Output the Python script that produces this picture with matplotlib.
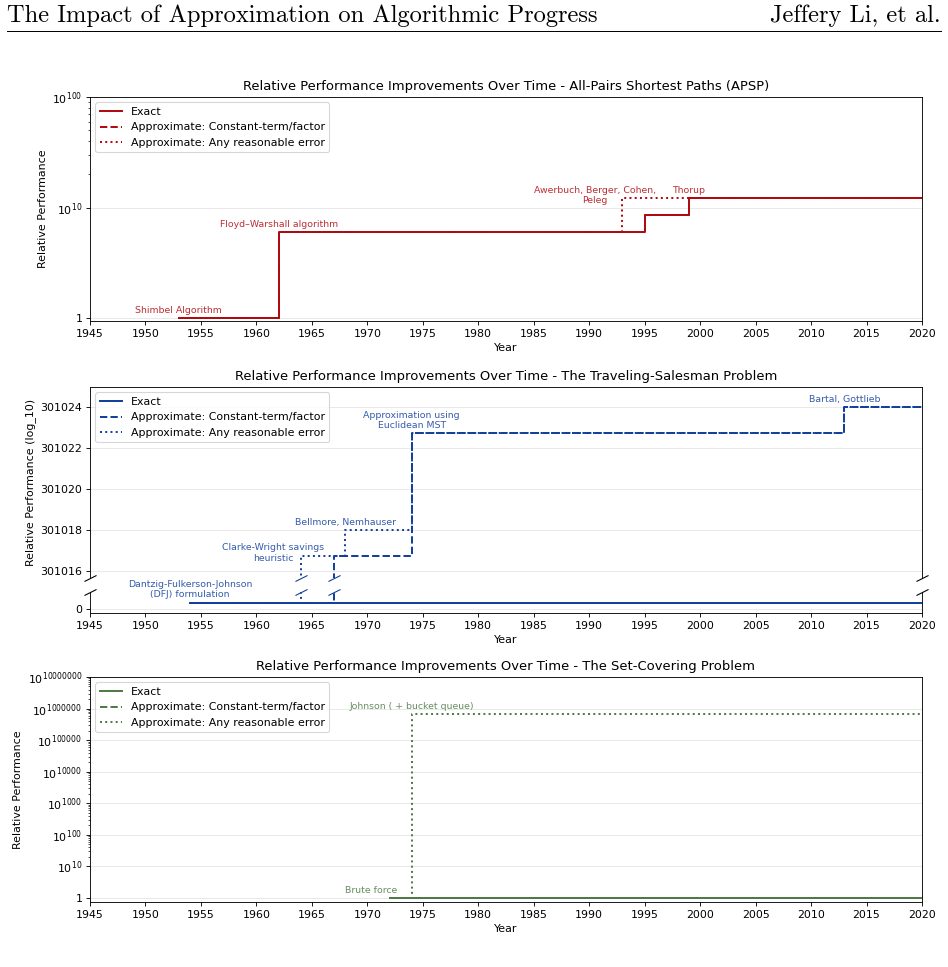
import numpy as np
import matplotlib
matplotlib.use("Agg")
import matplotlib.pyplot as plt
from matplotlib.lines import Line2D

# ------------------------------------------------------------
# Data: log10 of relative performance, step changes by year
# ------------------------------------------------------------
END_YEAR = 2020

# APSP
apsp_exact_years = [1953, 1962, 1995, 1999]
apsp_exact_vals = [0.0, 7.8, 9.35, 12.2]
apsp_const_years = [1953, 1962, 1995, 1999]
apsp_const_vals = [0.0, 7.8, 9.35, 12.2]
apsp_any_years = [1953, 1962, 1993, 1999]
apsp_any_vals = [0.0, 7.8, 12.2, 12.2]
apsp_labels = ["Shimbel Algorithm", "Floyd\u2013Warshall algorithm",
               "Awerbuch, Berger, Cohen,\nPeleg", "Thorup"]
apsp_label_years = [1953, 1962, 1993, 1999]
apsp_label_vals = [0.0, 7.8, 12.2, 12.2]

# TSP
tsp_exact_years = [1954]
tsp_exact_vals = [0.30]
tsp_const_years = [1954, 1967, 1974, 2013]
tsp_const_vals = [0.30, 301016.75, 301022.73, 301024.03]
tsp_any_years = [1954, 1964, 1968, 1974, 2013]
tsp_any_vals = [0.30, 301016.75, 301018.0, 301022.73, 301024.03]
tsp_labels = ["Dantzig-Fulkerson-Johnson\n(DFJ) formulation",
              "Clarke-Wright savings\nheuristic", "Bellmore, Nemhauser",
              "Approximation using\nEuclidean MST", "Bartal, Gottlieb"]
tsp_label_years = [1954, 1964, 1968, 1974, 2013]
tsp_label_vals = [0.30, 301016.75, 301018.0, 301022.73, 301024.03]

# Set covering
sc_exact_years = [1972]
sc_exact_vals = [0.0]
sc_const_years = [1972]
sc_const_vals = [0.0]
sc_any_years = [1972, 1974]
sc_any_vals = [0.0, 6.6e5]
sc_labels = ["Brute force", "Johnson ( + bucket queue)"]
sc_label_years = [1972, 1974]
sc_label_vals = [0.0, 6.6e5]

# ------------------------------------------------------------
# Style
# ------------------------------------------------------------
RED = "#b00a10"
BLUE = "#123f9c"
GREEN = "#4d7a45"
LEGEND_NAMES = ["Exact", "Approximate: Constant-term/factor",
                "Approximate: Any reasonable error"]
STYLES = ["-", "--", ":"]
LW = 1.8
NORMAL = (0, 3)
SHIFTED = (-25, -6.5)

W, H, DPI = 948, 967, 79
fig = plt.figure(figsize=(W / DPI, H / DPI), dpi=DPI)


def px_axes(left, top, right, bottom):
    return fig.add_axes([left / W, 1 - bottom / H, (right - left) / W, (bottom - top) / H])


def step(ax, years, vals, ls, color, label=None):
    x = list(years) + [END_YEAR]
    y = list(vals) + [vals[-1]]
    return ax.step(x, y, where="post", ls=ls, color=color, lw=LW, label=label)[0]


def draw_series(ax, series, color):
    for (yrs, vals), ls, name in zip(series, STYLES, LEGEND_NAMES):
        step(ax, yrs, vals, ls, color, name)


def label(ax, text, year, val, color, offset=NORMAL):
    ax.annotate(text, xy=(year, val), xytext=offset, textcoords="offset points",
                ha="center", va="bottom", fontsize=8.5, color=color, alpha=0.85,
                annotation_clip=False)


def xaxis(ax):
    ax.set_xlim(1945, END_YEAR)
    ax.set_xticks(np.arange(1945, END_YEAR + 1, 5))
    ax.set_xlabel("Year")


# header
fig.text(7 / W, 1 - 16 / H, "The Impact of Approximation on Algorithmic Progress",
         family="cmr10", fontsize=22.3, va="center", ha="left")
fig.text(941 / W, 1 - 16 / H, "Jeffery Li, et al.", family="cmr10", fontsize=22.3,
         va="center", ha="right")
fig.add_artist(Line2D([7 / W, 941 / W], [1 - 31 / H, 1 - 31 / H], color="k", lw=0.9))

# ---------------- APSP ----------------
ax1 = px_axes(90, 97, 922, 321)
draw_series(ax1, [(apsp_exact_years, apsp_exact_vals),
                  (apsp_const_years, apsp_const_vals),
                  (apsp_any_years, apsp_any_vals)], RED)
ax1.set_yscale("symlog", linthresh=10, linscale=0.9, subs=np.arange(2, 10))
ax1.set_ylim(-0.27, 100)
ax1.set_yticks([0, 10, 100])
ax1.set_yticklabels(["1", r"$10^{10}$", r"$10^{100}$"])
offs = [NORMAL, NORMAL, SHIFTED, NORMAL]
for t, yr, v, o in zip(apsp_labels, apsp_label_years, apsp_label_vals, offs):
    label(ax1, t, yr, v, RED, o)
ax1.grid(axis="y", color="0.9", lw=0.8)
ax1.set_axisbelow(True)
ax1.set_ylabel("Relative Performance")
ax1.set_title("Relative Performance Improvements Over Time - All-Pairs Shortest Paths (APSP)")
ax1.legend(loc="upper left")
xaxis(ax1)

# ---------------- TSP (broken axis) ----------------
ax2t = px_axes(90, 387, 922, 578)
ax2b = px_axes(90, 592, 922, 613)
tsp_series = [(tsp_exact_years, tsp_exact_vals),
              (tsp_const_years, tsp_const_vals),
              (tsp_any_years, tsp_any_vals)]
draw_series(ax2t, tsp_series, BLUE)
draw_series(ax2b, tsp_series, BLUE)
ax2t.set_ylim(301015.66, 301025)
ax2t.set_yticks(np.arange(301016, 301025, 2))
ax2t.ticklabel_format(axis="y", useOffset=False, style="plain")
ax2b.set_ylim(-0.2, 0.8)
ax2b.set_yticks([0])
for a in (ax2t, ax2b):
    a.set_xlim(1945, END_YEAR)
    a.grid(axis="y", color="0.9", lw=0.8)
    a.set_axisbelow(True)
ax2t.spines["bottom"].set_visible(False)
ax2b.spines["top"].set_visible(False)
ax2t.tick_params(axis="x", bottom=False, labelbottom=False)
xaxis(ax2b)

brk = dict(marker=[(-1, -0.5), (1, 0.5)], markersize=11, linestyle="none",
           mew=1, clip_on=False)
ax2t.plot([0, 1], [0, 0], transform=ax2t.transAxes, color="k", mec="k", **brk)
ax2b.plot([0, 1], [1, 1], transform=ax2b.transAxes, color="k", mec="k", **brk)
cross = [tsp_any_years[1], tsp_const_years[1]]
ax2t.plot(cross, [0, 0], transform=ax2t.get_xaxis_transform(), color=BLUE, mec=BLUE, **brk)
ax2b.plot(cross, [1, 1], transform=ax2b.get_xaxis_transform(), color=BLUE, mec=BLUE, **brk)

offs = [NORMAL, SHIFTED, NORMAL, NORMAL, NORMAL]
for t, yr, v, o in zip(tsp_labels, tsp_label_years, tsp_label_vals, offs):
    label(ax2b if v < 1 else ax2t, t, yr, v, BLUE, o)
ax2t.set_ylabel("Relative Performance (log_10)")
ax2t.set_title("Relative Performance Improvements Over Time - The Traveling-Salesman Problem")
ax2t.legend(loc="upper left")

# ---------------- Set covering ----------------
ax3 = px_axes(90, 677, 922, 902)
draw_series(ax3, [(sc_exact_years, sc_exact_vals),
                  (sc_const_years, sc_const_vals),
                  (sc_any_years, sc_any_vals)], GREEN)
ax3.set_yscale("symlog", linthresh=10, linscale=0.9, subs=np.arange(2, 10))
ax3.set_ylim(-1.3, 1e7)
sc_ticks = [0] + [10 ** k for k in range(1, 8)]
ax3.set_yticks(sc_ticks)
ax3.set_yticklabels(["1"] + [r"$10^{%d}$" % t for t in sc_ticks[1:]])
offs = [(-17, 3), NORMAL]
for t, yr, v, o in zip(sc_labels, sc_label_years, sc_label_vals, offs):
    label(ax3, t, yr, v, GREEN, o)
ax3.grid(axis="y", color="0.9", lw=0.8)
ax3.set_axisbelow(True)
ax3.set_ylabel("Relative Performance")
ax3.set_title("Relative Performance Improvements Over Time - The Set-Covering Problem")
ax3.legend(loc="upper left")
xaxis(ax3)

fig.savefig("out.png", dpi=DPI)
